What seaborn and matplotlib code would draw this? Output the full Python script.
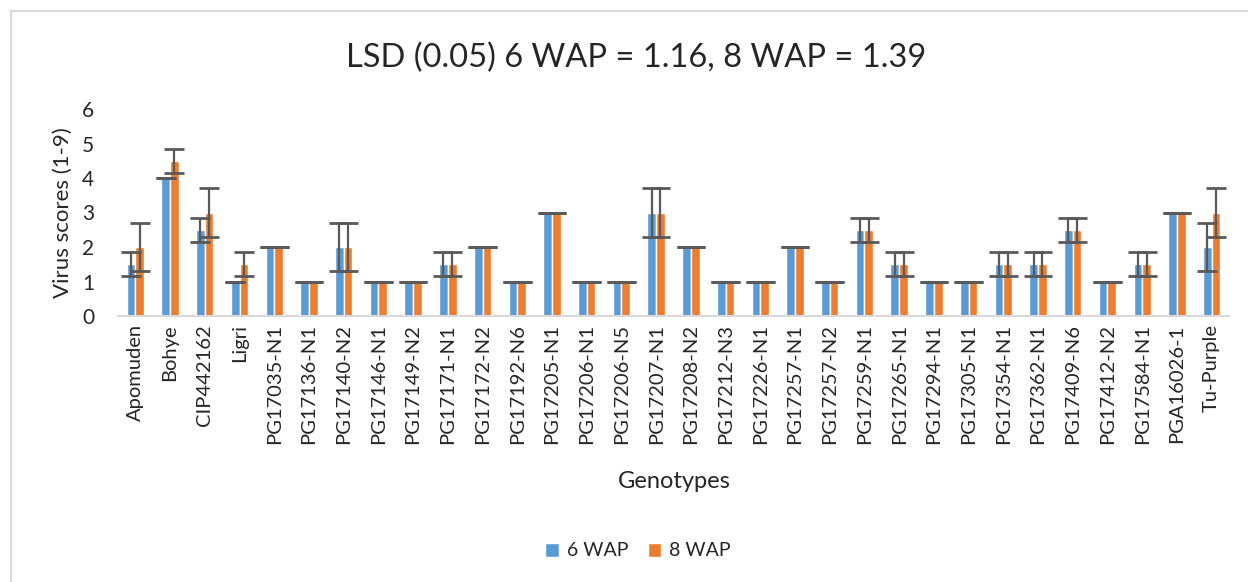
import pandas as pd
import matplotlib.pyplot as plt
import seaborn as sns
from matplotlib.patches import Rectangle

sns.set_theme(style="white")
plt.rcParams['font.family'] = ['Lato', 'DejaVu Sans']

# --- datos ---
genotypes = ["Apomuden", "Bohye", "CIP442162", "Ligri", "PG17035-N1", "PG17136-N1",
             "PG17140-N2", "PG17146-N1", "PG17149-N2", "PG17171-N1", "PG17172-N2",
             "PG17192-N6", "PG17205-N1", "PG17206-N1", "PG17206-N5", "PG17207-N1",
             "PG17208-N2", "PG17212-N3", "PG17226-N1", "PG17257-N1", "PG17257-N2",
             "PG17259-N1", "PG17265-N1", "PG17294-N1", "PG17305-N1", "PG17354-N1",
             "PG17362-N1", "PG17409-N6", "PG17412-N2", "PG17584-N1", "PGA16026-1",
             "Tu-Purple"]
wap6 = [1.5, 4, 2.5, 1, 2, 1, 2, 1, 1, 1.5, 2, 1, 3, 1, 1, 3, 2, 1, 1, 2, 1,
        2.5, 1.5, 1, 1, 1.5, 1.5, 2.5, 1, 1.5, 3, 2]
wap8 = [2, 4.5, 3, 1.5, 2, 1, 2, 1, 1, 1.5, 2, 1, 3, 1, 1, 3, 2, 1, 1, 2, 1,
        2.5, 1.5, 1, 1, 1.5, 1.5, 2.5, 1, 1.5, 3, 3]
err6 = [0.35, 0, 0.35, 0, 0, 0, 0.7, 0, 0, 0.35, 0, 0, 0, 0, 0, 0.7, 0, 0, 0, 0, 0,
        0.35, 0.35, 0, 0, 0.35, 0.35, 0.35, 0, 0.35, 0, 0.7]
err8 = [0.7, 0.35, 0.7, 0.35, 0, 0, 0.7, 0, 0, 0.35, 0, 0, 0, 0, 0, 0.7, 0, 0, 0, 0, 0,
        0.35, 0.35, 0, 0, 0.35, 0.35, 0.35, 0, 0.35, 0, 0.7]
series = ["6 WAP", "8 WAP"]
colors = ["#5B9BD5", "#ED7D31"]

df = pd.DataFrame({
    "Genotype": genotypes * 2,
    "score": wap6 + wap8,
    "err": err6 + err8,
    "serie": [series[0]] * len(genotypes) + [series[1]] * len(genotypes),
})

fig = plt.figure(figsize=(12.48, 5.82), dpi=100)
ax = fig.add_axes([118 / 1248, 1 - 316 / 582, (1229 - 118) / 1248, (316 - 109) / 582])

sns.barplot(data=df, x="Genotype", y="score", hue="serie", palette=colors, saturation=1,
            width=0.5, errorbar=None, edgecolor="white", linewidth=1, ax=ax)

# barras de error
for cont, s in zip(ax.containers, series):
    sub = df[df["serie"] == s]
    xs = [p.get_x() + p.get_width() / 2 for p in cont.patches]
    ax.errorbar(xs, sub["score"], yerr=sub["err"], fmt="none", ecolor="#595959",
                elinewidth=1.6, capsize=7, capthick=2, zorder=5)

ax.set_xlim(-0.5, len(genotypes) - 0.5)
ax.set_ylim(0, 6)
ax.set_yticks(range(7))
ax.tick_params(axis="y", labelsize=15, length=0, pad=17)
ax.tick_params(axis="x", labelsize=14.5, length=0, pad=6, rotation=90)
for sp in ["left", "right", "top"]:
    ax.spines[sp].set_visible(False)
ax.spines["bottom"].set_color("#D9D9D9")
ax.spines["bottom"].set_linewidth(1.5)

ax.set_ylabel("Virus scores (1-9)", fontsize=16, va="center")
ax.yaxis.set_label_coords((63 - 118) / 1111, 0.5)
ax.set_xlabel("")
fig.text(674 / 1248, 1 - 482 / 582, "Genotypes", ha="center", va="center", fontsize=17)
fig.text(636 / 1248, 1 - 58 / 582, "LSD (0.05) 6 WAP = 1.16, 8 WAP = 1.39",
         ha="center", va="center", fontsize=23.5)

ax.legend(title=None, loc="center", frameon=False,
          ncol=2, fontsize=14, handlelength=0.7, handleheight=0.7, columnspacing=1.0,
          handletextpad=0.4)
ax.get_legend().set_bbox_to_anchor((638 / 1248, 1 - 551 / 582), transform=fig.transFigure)

# marco del area del grafico
fig.patches.append(Rectangle((11 / 1248, -0.1), 1.2, 1 - 11 / 582 + 0.1,
                             transform=fig.transFigure, fill=False,
                             edgecolor="#D9D9D9", linewidth=1.5))

fig.savefig("out.png", dpi=100, facecolor="white")
